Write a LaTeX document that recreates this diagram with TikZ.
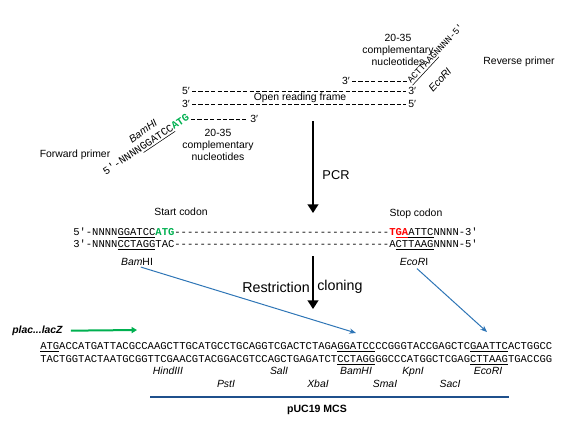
\documentclass[tikz,border=0pt]{standalone}
\usepackage{fontspec}
\setmainfont{Liberation Sans}
\setmonofont{Liberation Mono}
\usetikzlibrary{arrows.meta}
\definecolor{atggreen}{RGB}{0,176,80}
\definecolor{stopred}{RGB}{255,0,0}
\definecolor{cutblue}{RGB}{46,117,182}
\definecolor{mcsblue}{RGB}{31,80,140}
\tikzset{
  LabelStyle/.style = { inner sep=0pt, align=center, font=\fontsize{7.8}{9.2}\selectfont },
  EndStyle/.style = { inner sep=1.5pt, font=\fontsize{7.8}{9.2}\selectfont },
  EnzStyle/.style = { inner sep=0pt, anchor=base, font=\fontsize{7.8}{9.2}\selectfont\itshape },
  SeqStyle/.style = { inner sep=0pt, anchor=base west, font=\fontsize{7.9}{9.5}\selectfont\ttfamily },
  StrandStyle/.style = { dash pattern=on 3.2pt off 1.6pt, line width=0.6pt },
  BigArrow/.style = { line width=2.2pt, -{Triangle[width=8pt,length=6.5pt]} },
  CutArrow/.style = { cutblue, line width=0.75pt, -{Stealth[length=5pt,width=4pt]} },
  PlacArrow/.style = { atggreen, line width=1.5pt, -{Triangle[width=4.5pt,length=4pt]} }
}

\begin{document}
\begin{tikzpicture}[x=0.75pt,y=-0.75pt]
  \useasboundingbox (0,0) rectangle (567,426);
  % open reading frame and primers
  \node[EndStyle, anchor=east] (orf5) at (192,91) {5′};
  \node[EndStyle, anchor=west] (orf3) at (406,91) {3′};
  \node[EndStyle, anchor=east] (orfb3) at (192,104) {3′};
  \node[EndStyle, anchor=west] (orfb5) at (406,104) {5′};
  \draw[StrandStyle] (orf5) -- (orf3);
  \draw[StrandStyle] (orfb3) -- (orfb5);
  \node[LabelStyle] (orf) at (300,98) {Open reading frame};
  \coordinate (fwdtail) at (105,176);
  \coordinate (fwdhead) at (190,119);
  \path (fwdtail) -- (fwdhead) node[SeqStyle, sloped, pos=1, anchor=base east] (fwd) {5′-NNNN\underline{GGATCC}\textcolor{atggreen}{\bfseries ATG}};
  \coordinate (fwdend) at (191,119);
  \node[EndStyle, anchor=west] (fwd3) at (248,119) {3′};
  \draw[StrandStyle] (fwdend) -- (fwd3);
  \coordinate (bama) at (123,145);
  \coordinate (bamb) at (163,117);
  \path (bama) -- (bamb) node[EnzStyle, sloped, midway, anchor=center] (fbam) {BamHI};
  \node[LabelStyle] (fcomp) at (218,145) {20-35\\complementary\\nucleotides};
  \node[LabelStyle] (fname) at (75,155) {Forward primer};
  \coordinate (revtail) at (411,84);
  \coordinate (revhead) at (465,26);
  \path (revtail) -- (revhead) node[SeqStyle, sloped, pos=0, anchor=base west, font=\fontsize{6.9}{8.3}\selectfont\ttfamily] (rev) {\underline{ACTTAAG}NNNN-5′};
  \coordinate (revend) at (409,81);
  \node[EndStyle, anchor=east] (rev3) at (352,81) {3′};
  \draw[StrandStyle] (rev3) -- (revend);
  \coordinate (ecoa) at (430,91);
  \coordinate (ecob) at (450,69);
  \path (ecoa) -- (ecob) node[EnzStyle, sloped, midway, anchor=center] (reco) {EcoRI};
  \node[LabelStyle] (rcomp) at (398,50) {20-35\\complementary\\nucleotides};
  \node[LabelStyle] (rname) at (519,62) {Reverse primer};
  % PCR step
  \coordinate (pcrtop) at (313,121);
  \coordinate (pcrtip) at (313,213);
  \draw[BigArrow] (pcrtop) -- (pcrtip);
  \node[LabelStyle, font=\fontsize{9.6}{11}\selectfont] (pcr) at (336,175) {PCR};
  % PCR product
  \node[LabelStyle] (start) at (181,212) {Start codon};
  \node[LabelStyle] (stop) at (416,214) {Stop codon};
  \node[SeqStyle] (prodtop) at (73,235.5) {5′-NNNN\underline{GGATCC}\textcolor{atggreen}{\bfseries ATG}----------------------------------\textcolor{stopred}{\bfseries T\underline{GA}}\underline{ATTC}NNNN-3′};
  \node[SeqStyle] (prodbot) at (73,247.5) {3′-NNNN\underline{CCTAGG}TAC----------------------------------A\underline{CTTAAG}NNNN-5′};
  \node[LabelStyle] (pbam) at (137,262) {\textit{Bam}HI};
  \node[LabelStyle] (peco) at (414,262) {\textit{EcoR}I};
  % cloning step
  \coordinate (cuttop) at (313,256);
  \coordinate (cuttip) at (313,309);
  \draw[BigArrow] (cuttop) -- (cuttip);
  \node[LabelStyle, anchor=east, font=\fontsize{10.7}{12}\selectfont] (cuta) at (310,287) {Restriction};
  \node[LabelStyle, anchor=west, font=\fontsize{10.7}{12}\selectfont] (cutb) at (317,287) {cloning};
  \coordinate (bamtip) at (356,333);
  \coordinate (ecotip) at (487,332);
  \draw[CutArrow, shorten <=3pt] (pbam.south) -- (bamtip);
  \draw[CutArrow, shorten <=3pt] (peco.south) -- (ecotip);
  % pUC19 MCS
  \node[LabelStyle, anchor=west, font=\fontsize{7.8}{9.2}\selectfont\bfseries\itshape] (plac) at (12,331) {plac...lacZ};
  \coordinate (placend) at (137,330);
  \draw[PlacArrow, shorten <=6pt] (plac) -- (placend);
  \node[SeqStyle] (mcstop) at (40,349) {\underline{ATG}ACCATGATTACGCCAAGCTTGCATGCCTGCAGGTCGACTCTAGA\underline{GGATCC}CCGGGTACCGAGCTC\underline{GAATTC}ACTGGCC};
  \node[SeqStyle] (mcsbot) at (40,362) {TACTGGTACTAATGCGGTTCGAACGTACGGACGTCCAGCTGAGATCT\underline{CCTAGG}GGCCCATGGCTCGAG\underline{CTTAAG}TGACCGG};
  \node[EnzStyle] (hind) at (168,374) {HindIII};
  \node[EnzStyle] (sal) at (279,374) {SalI};
  \node[EnzStyle] (bam) at (356,374) {BamHI};
  \node[EnzStyle] (kpn) at (413,374) {KpnI};
  \node[EnzStyle] (eco) at (488,374) {EcoRI};
  \node[EnzStyle] (pst) at (226,387) {PstI};
  \node[EnzStyle] (xba) at (318,387) {XbaI};
  \node[EnzStyle] (sma) at (385,387) {SmaI};
  \node[EnzStyle] (sac) at (450,387) {SacI};
  \coordinate (mcsl) at (150,397);
  \coordinate (mcsr) at (509,397);
  \draw[mcsblue, line width=2pt] (mcsl) -- (mcsr);
  \node[LabelStyle, font=\fontsize{7.9}{9.4}\selectfont\bfseries] (mcs) at (317,410) {pUC19 MCS};
\end{tikzpicture}
\end{document}
